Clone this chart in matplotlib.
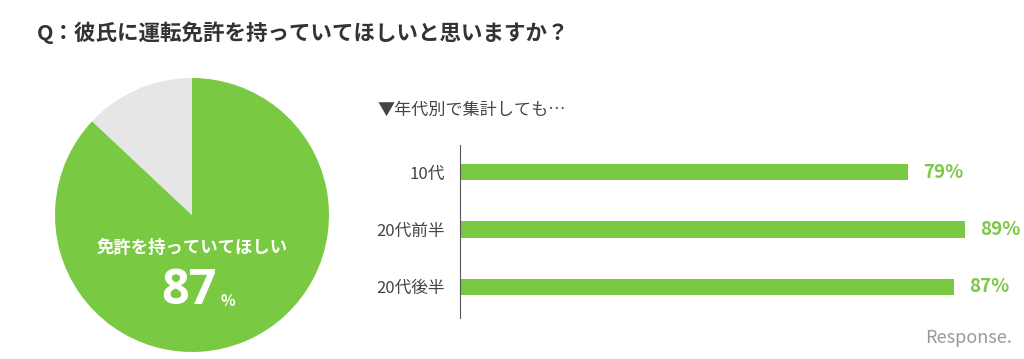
import numpy as np
import matplotlib
matplotlib.use('Agg')
import matplotlib.pyplot as plt

plt.rcParams['font.family'] = ['Noto Sans CJK JP', 'DejaVu Sans']

# data
pie_labels = ['免許を持っていてほしい', 'その他']
pie_values = [87, 13]
age_groups = ['10代', '20代前半', '20代後半']
age_values = [79, 89, 87]

title = 'Q：彼氏に運転免許を持っていてほしいと思いますか？'
subtitle = '▼年代別で集計しても…'

GREEN = '#7AC943'
GREY = '#E6E6E6'
TEXT = '#444444'

fig = plt.figure(figsize=(10.24, 3.59), dpi=100)
fig.patch.set_facecolor('white')

fig.text(37 / 1024, 1 - 33 / 359, title, fontsize=15.5, fontweight='bold',
         color='#333333', va='center', ha='left')

# pie
ax_pie = fig.add_axes([55 / 1024, 7 / 359, 274 / 1024, 274 / 359])
ax_pie.pie(pie_values, colors=[GREEN, GREY], startangle=90, counterclock=False,
           radius=1.0, wedgeprops=dict(linewidth=0))
ax_pie.set_xlim(-1, 1)
ax_pie.set_ylim(-1, 1)
ax_pie.set_aspect('equal')
ax_pie.set_axis_off()
ax_pie.text(0, -0.24, pie_labels[0], color='white', fontsize=12.5, fontweight='bold',
            ha='center', va='center')
ax_pie.text(0.18, -0.56, str(pie_values[0]), color='white', fontsize=35, fontweight='bold',
            ha='right', va='center', family=['Open Sans', 'DejaVu Sans'])
ax_pie.text(0.21, -0.63, '%', color='white', fontsize=11, fontweight='bold',
            ha='left', va='center')

fig.text(377 / 1024, 1 - 110 / 359, subtitle, fontsize=12.3, color=TEXT,
         va='center', ha='left')

# bars
ax = fig.add_axes([460 / 1024, 41 / 359, 539 / 1024, 173 / 359])
y = np.arange(len(age_groups))
ax.barh(y, age_values, height=0.28, color=GREEN)
ax.set_xlim(0, 95)
ax.set_ylim(2.54, -0.47)
ax.set_yticks(y)
ax.set_yticklabels(age_groups, fontsize=12, color=TEXT)
ax.tick_params(axis='y', length=0, pad=11)
ax.set_xticks([])
for s in ['top', 'right', 'bottom']:
    ax.spines[s].set_visible(False)
ax.spines['left'].set_color('#555555')
ax.spines['left'].set_linewidth(0.8)
for yi, v in zip(y, age_values):
    ax.text(v + 2.7, yi, f'{v}%', color=GREEN, fontsize=13.5, fontweight='bold',
            va='center', ha='left')

fig.text(1012 / 1024, 1 - 338 / 359, 'Response.', fontsize=13, color='#999999',
         ha='right', va='center', style='italic')

fig.savefig('out.png', dpi=100, facecolor='white')
